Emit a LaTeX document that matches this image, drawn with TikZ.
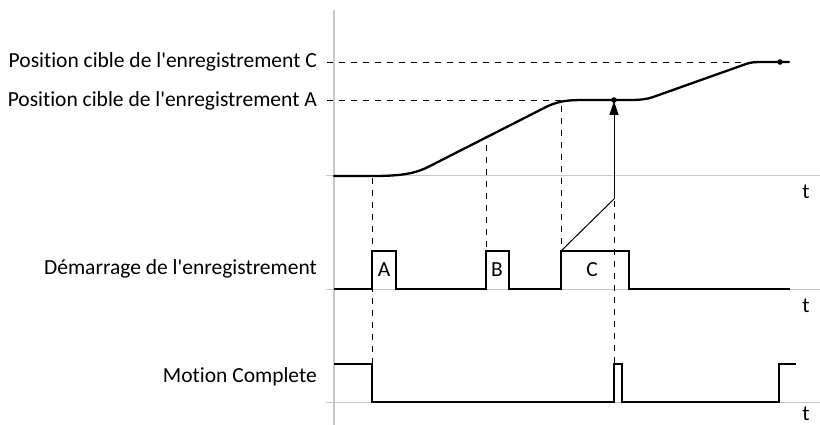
\documentclass[tikz,border=0pt]{standalone}
\usepackage{fontspec}
\setmainfont{Carlito}[Ligatures=NoCommon]
\usetikzlibrary{arrows.meta}
\definecolor{axgray}{RGB}{200,200,200}
\tikzset{
  sig/.style={line width=2.3pt, line join=miter},
  guide/.style={line width=0.9pt, dash pattern=on 6pt off 6pt},
  grayax/.style={axgray, line width=1pt},
  lbl/.style={anchor=east, inner sep=0pt, font=\fontsize{21.5}{24}\selectfont},
  tl/.style={inner sep=0pt, font=\fontsize{21.5}{24}\selectfont},
}
\begin{document}
\begin{tikzpicture}[x=1pt,y=-1pt]
\useasboundingbox (0,0) rectangle (820,425);
% axes
\draw[axgray, line width=2pt] (334,10) -- (334,425);
\draw[grayax] (326,176) -- (820,176);
\draw[grayax] (326,289) -- (820,289);
\draw[grayax] (326,402) -- (820,402);
% labels
\node[lbl] (lc) at (317,62) {Position cible de l\textquotesingle enregistrement C};
\node[lbl] (la) at (317,101) {Position cible de l\textquotesingle enregistrement A};
\node[lbl] (ld) at (317,269) {Démarrage de l\textquotesingle enregistrement};
\node[lbl] (lm) at (317,377) {Motion Complete};
\node[tl] (t1) at (806,192) {t};
\node[tl] (t2) at (806,306) {t};
\node[tl, anchor=south] (t3) at (806,421) {t};
% target guides
\coordinate (gc0) at (327,62);
\coordinate (gc1) at (760,62);
\coordinate (ga0) at (327,100);
\coordinate (ga1) at (580,100);
\draw[guide] (gc0) -- (gc1);
\draw[guide] (ga0) -- (ga1);
% position curve
\draw[sig, line cap=round]
  (334,176) -- (372,176)
  .. controls (400,176) and (415,174) .. (430,166)
  -- (548,106)
  .. controls (562,100) and (570,100) .. (590,100)
  -- (630,100)
  .. controls (642,100) and (648,99) .. (656,96)
  -- (746,64)
  .. controls (752,62) and (755,62) .. (765,62)
  -- (789,62);
\fill (780,62) circle (2.8pt);
\fill (614,100) circle (2.8pt);
% vertical guides
\draw[guide] (372,178) -- (372,402);
\draw[guide] (486,145) -- (486,289);
\draw[guide] (561,106) -- (561,289);
\draw[guide] (614,201) -- (614,402);
% start signal
\draw[sig] (334,289) -- (372,289) -- (372,251) -- (396,251) -- (396,289)
  -- (486,289) -- (486,251) -- (509,251) -- (509,289)
  -- (561,289) -- (561,251) -- (629,251) -- (629,289) -- (790,289);
\node[tl] (pa) at (384,270) {A};
\node[tl] (pb) at (497,270) {B};
\node[tl] (pc) at (592,270) {C};
% arrow
\coordinate (s0) at (561,251);
\coordinate (s1) at (614,199);
\coordinate (s2) at (614,101);
\draw[line width=1pt] (s0) -- (s1);
\draw[line width=1pt, -{Triangle[length=14pt,width=9pt]}] (s1) -- (s2);
% motion complete
\draw[sig] (334,364) -- (372,364) -- (372,402) -- (614,402) -- (614,364)
  -- (622,364) -- (622,402) -- (779,402) -- (779,364) -- (796,364);
\end{tikzpicture}
\end{document}
